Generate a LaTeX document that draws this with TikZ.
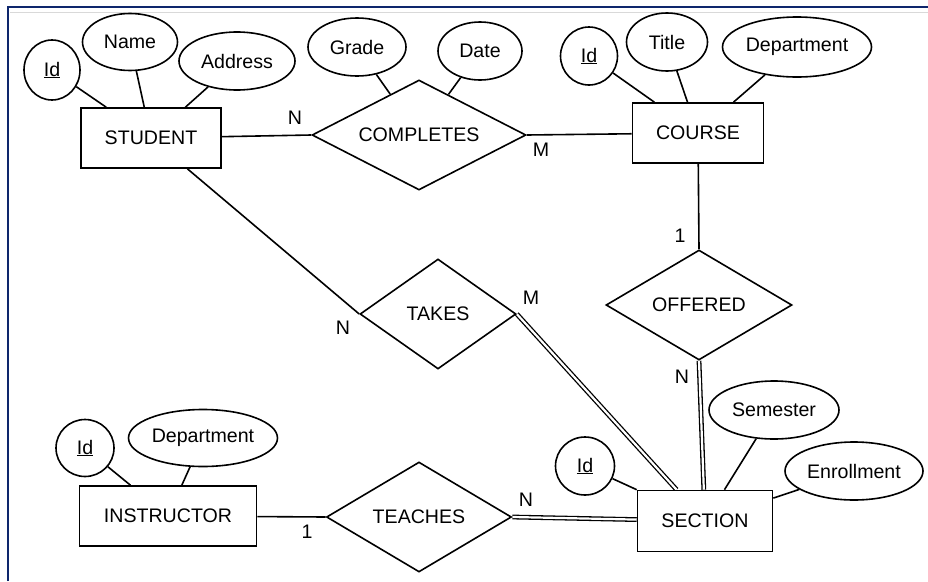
\documentclass[tikz,border=0pt]{standalone}
\usepackage{fontspec}
\setmainfont{Liberation Sans}
\usetikzlibrary{shapes.geometric,backgrounds}
\definecolor{frameblue}{RGB}{14,38,108}
\begin{document}
\begin{tikzpicture}[x=1pt,y=-1pt,
  every node/.style={font=\fontsize{19.6}{22}\selectfont, inner sep=0pt},
  entity/.style={draw, rectangle, fill=white, line width=1.6pt, minimum height=60pt},
  attr/.style={draw, ellipse, fill=white, line width=1.6pt},
  rel/.style={draw, diamond, fill=white, line width=1.6pt, shape aspect=2, minimum height=110pt},
  conn/.style={line width=1.6pt},
  dconn/.style={line width=1.3pt, double, double distance=2.2pt}]

\useasboundingbox (0,0) rectangle (928,581);

% frame
\draw[frameblue, line width=2.6pt] (8,581) -- (8,7) -- (928,7);
\draw[black!15, line width=1pt] (10,12) -- (928,12);

% STUDENT
\node[entity, minimum width=140pt] (student) at (151,138) {STUDENT};
\node[attr, minimum width=56pt, minimum height=60pt] (sid) at (52,70) {\underline{Id}};
\node[attr, minimum width=95pt, minimum height=57pt] (sname) at (130,42) {Name};
\node[attr, minimum width=116pt, minimum height=58pt] (saddr) at (237,61) {Address};

% COMPLETES
\node[rel, minimum width=214pt] (completes) at (419,135) {COMPLETES};
\node[attr, minimum width=98pt, minimum height=58pt] (grade) at (357,47) {Grade};
\node[attr, minimum width=84pt, minimum height=58pt] (date) at (480,51) {Date};

% COURSE
\node[entity, minimum width=131pt] (course) at (698,133) {COURSE};
\node[attr, minimum width=57pt, minimum height=58pt] (cid) at (589,56) {\underline{Id}};
\node[attr, minimum width=81pt, minimum height=58pt] (ctitle) at (667,42) {Title};
\node[attr, minimum width=149pt, minimum height=60pt] (cdept) at (797,47) {Department};

% relationships
\node[rel, minimum width=186pt] (offered) at (699,305) {OFFERED};
\node[rel, minimum width=156pt] (takes) at (438,314) {TAKES};
\node[rel, minimum width=185pt] (teaches) at (419,517) {TEACHES};

% SECTION
\node[entity, minimum width=135pt, minimum height=61pt] (section) at (705,521) {SECTION};
\node[attr, minimum width=59pt, minimum height=58pt] (secid) at (585,466) {\underline{Id}};
\node[attr, minimum width=130pt, minimum height=58pt] (sem) at (774,410) {Semester};
\node[attr, minimum width=138pt, minimum height=58pt] (enr) at (854,471) {Enrollment};

% INSTRUCTOR
\node[entity, minimum width=177pt] (instr) at (168,516) {INSTRUCTOR};
\node[attr, minimum width=58pt, minimum height=57pt] (iid) at (85,448) {\underline{Id}};
\node[attr, minimum width=149pt, minimum height=57pt] (idept) at (203,438) {Department};

% cardinality labels
\node (c1) at (295,118) {N};
\node (c2) at (541,150) {M};
\node (c3) at (680,236) {1};
\node (c4) at (682,377) {N};
\node (c5) at (343,328) {N};
\node (c6) at (531,298) {M};
\node (c7) at (307,532) {1};
\node (c8) at (526,500) {N};

\begin{scope}[on background layer]
\draw[conn] (sid) -- (student);
\draw[conn] (sname) -- (student);
\draw[conn] (saddr) -- (student);
\draw[conn] (grade) -- (completes);
\draw[conn] (date) -- (completes);
\draw[conn] (cid) -- (course);
\draw[conn] (ctitle) -- (course);
\draw[conn] (cdept) -- (course);
\draw[conn] (secid) -- (section);
\draw[conn] (sem) -- (section);
\draw[conn] (enr) -- (section);
\draw[conn] (iid) -- (instr);
\draw[conn] (idept) -- (instr);
\draw[conn] (student) -- (completes.west);
\draw[conn] (completes.east) -- (course);
\draw[conn] (course) -- (offered.north);
\draw[conn] (student) -- (takes.west);
\draw[conn] (instr) -- (teaches.west);
\draw[dconn] (offered.south) -- (section);
\draw[dconn] (takes.east) -- (section);
\draw[dconn] (teaches.east) -- (section);
\end{scope}
\end{tikzpicture}
\end{document}
